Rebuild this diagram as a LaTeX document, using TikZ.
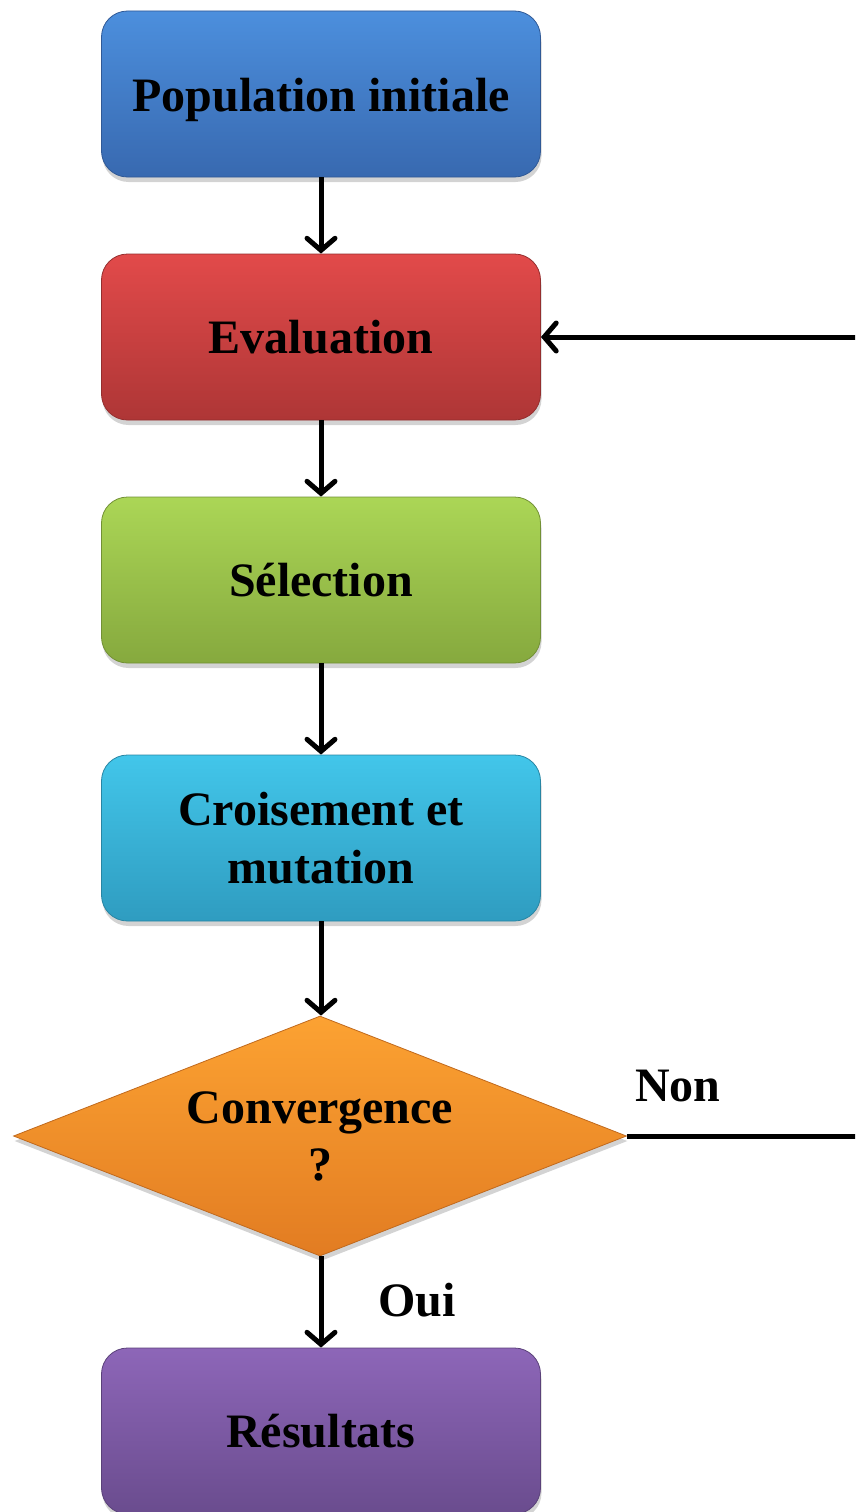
\documentclass[tikz,border=0pt]{standalone}
\usepackage{fontspec}
\setmainfont{Liberation Serif}
\usetikzlibrary{shapes.geometric,shadows,arrows.meta}
\definecolor{blueT}{HTML}{4C8FDD}
\definecolor{blueB}{HTML}{3869B0}
\definecolor{redT}{HTML}{E24A4A}
\definecolor{redB}{HTML}{AE3636}
\definecolor{greenT}{HTML}{ABD656}
\definecolor{greenB}{HTML}{86A93E}
\definecolor{cyanT}{HTML}{42C6EA}
\definecolor{cyanB}{HTML}{2F9CC0}
\definecolor{orangeT}{HTML}{FCA232}
\definecolor{orangeB}{HTML}{E27C22}
\definecolor{purpleT}{HTML}{8D66B8}
\definecolor{purpleB}{HTML}{6A4C8E}
\tikzset{
  stepbox/.style={rectangle, rounded corners=26pt, minimum width=439pt, minimum height=166pt,
    inner sep=0pt, align=center, font=\fontsize{48}{58}\selectfont\bfseries,
    draw=#1B!85!black, line width=0.8pt, top color=#1T, bottom color=#1B,
    drop shadow={shadow xshift=1pt, shadow yshift=-5pt, opacity=0.35}},
  decision/.style={diamond, minimum width=613pt, minimum height=240pt, aspect=2.55,
    inner sep=0pt, align=center, font=\fontsize{48}{57}\selectfont\bfseries,
    draw=orangeB!85!black, line width=0.8pt, top color=orangeT, bottom color=orangeB,
    drop shadow={shadow xshift=1pt, shadow yshift=-5pt, opacity=0.35}},
  conn/.style={line width=5pt, -{Straight Barb[length=12pt,width=28pt,line cap=round]}},
  plain/.style={line width=5pt},
  lbl/.style={font=\fontsize{48}{58}\selectfont\bfseries}
}
\begin{document}
\begin{tikzpicture}[x=1pt,y=-1pt]
\useasboundingbox (0,0) rectangle (855,1512);
\clip (0,0) rectangle (855,1512);
\node[stepbox=blue]   (pop)  at (321,94)   {\raisebox{-6pt}[\height][\depth]{Population initiale}};
\node[stepbox=red]    (eval) at (321,337)  {Evaluation};
\node[stepbox=green]  (sel)  at (321,580)  {Sélection};
\node[stepbox=cyan]   (croi) at (321,838)  {Croisement et\\mutation};
\node[decision]       (conv) at (320,1136) {Convergence\\?};
\node[stepbox=purple] (res)  at (321,1431) {Résultats};
\coordinate (rtop) at (870,337);
\coordinate (rbot) at (870,1136);
\draw[conn] (pop.south) -- (eval.north);
\draw[conn] (eval.south) -- (sel.north);
\draw[conn] (sel.south) -- (croi.north);
\draw[conn] (croi.south) -- (croi.south |- conv.north);
\draw[conn] (conv.south -| res.north) -- (res.north);
\draw[plain] (conv.east) -- (rbot);
\draw[conn] (rtop) -- (eval.east);
\node[lbl] (non) at (678,1086) {Non};
\node[lbl] (oui) at (417,1300) {Oui};
\end{tikzpicture}
\end{document}
